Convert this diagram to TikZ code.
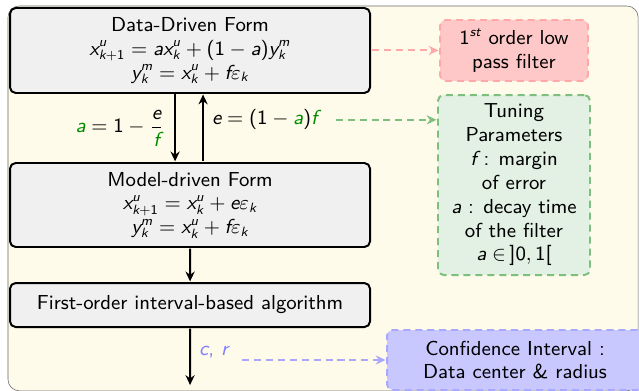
\documentclass[tikz,border=0pt]{standalone}
\usepackage{amsmath, amssymb}
\usetikzlibrary{arrows.meta}

\DeclareSymbolFont{sfletters}{TU}{lmss}{m}{sl}
\SetSymbolFont{operators}{normal}{TU}{lmss}{m}{n}
\newcommand\sfletter[1]{\DeclareMathSymbol{#1}{\mathalpha}{sfletters}{`#1}}
\sfletter{a}\sfletter{c}\sfletter{e}\sfletter{f}\sfletter{k}\sfletter{m}
\sfletter{r}\sfletter{s}\sfletter{t}\sfletter{u}\sfletter{x}\sfletter{y}

\definecolor{bgyellow}{RGB}{255,251,234}
\definecolor{boxgray}{RGB}{240,240,240}
\definecolor{tgreen}{RGB}{0,140,0}
\definecolor{lpfill}{RGB}{255,200,200}
\definecolor{lpline}{RGB}{255,168,168}
\definecolor{tpfill}{RGB}{227,240,228}
\definecolor{tpline}{RGB}{125,192,125}
\definecolor{cifill}{RGB}{200,200,255}
\definecolor{ciline}{RGB}{168,168,255}
\definecolor{cblue}{RGB}{128,128,255}

\tikzset{
  formbox/.style={draw=black, line width=1.4pt, fill=boxgray, rounded corners=4pt, minimum width=5.625cm, align=center},
  notebox/.style={line width=1.4pt, dash pattern=on 5pt off 3.5pt, rounded corners=4pt, align=center},
  flow/.style={line width=1.4pt, -{Stealth[length=7pt, width=6.5pt]}},
  hint/.style={line width=1.4pt, dash pattern=on 5pt off 3.5pt, -{Stealth[length=7pt, width=6.5pt]}},
}

\begin{document}
\begin{tikzpicture}[scale=1.6, every node/.style={transform shape, font=\fontsize{9}{10.6}\selectfont\sffamily}]
  \useasboundingbox (0,0) rectangle (9.984,6.094);
  \filldraw[fill=bgyellow, draw=black!60, rounded corners=8pt] (0.125,-0.012) rectangle (9.97,6.0);

  \node[formbox, minimum height=1.328cm] (ddf) at (2.969,5.305)
    {Data-Driven Form\\ $x^u_{k+1} = a x^u_k + (1-a) y^m_k$\\ $y^m_k = x^u_k + f \varepsilon_k$};
  \node[formbox, minimum height=1.3125cm] (mdf) at (2.969,2.891)
    {Model-driven Form\\ $x^u_{k+1} = x^u_k + e \varepsilon_k$\\ $y^m_k = x^u_k + f \varepsilon_k$};
  \node[formbox, minimum height=0.6875cm] (fia) at (2.969,1.328) {First-order interval-based algorithm};
  \coordinate (outEnd) at (2.969,0.078);

  \node[notebox, draw=lpline, fill=lpfill, minimum width=2.3125cm, minimum height=0.953cm] (lpf) at (8.031,5.305)
    {$1^{st}$ order low\\ pass filter};
  \node[notebox, draw=tpline, fill=tpfill, minimum width=2.375cm, minimum height=2.8125cm] (tpar) at (8.031,3.203)
    {Tuning\\ Parameters\\ $f$ : margin\\ of error\\ $a$ : decay time\\ of the filter\\ $a \in \,]0,1[$};
  \node[notebox, draw=ciline, fill=cifill, minimum width=4cm, minimum height=0.9375cm] (cint) at (8.047,0.469)
    {Confidence Interval :\\ Data center \& radius};

  \draw[flow] ([xshift=-0.234cm]ddf.south) -- ([xshift=-0.234cm]mdf.north)
    node[midway, left, xshift=-1pt] (aLbl) {${\color{tgreen}a} = 1 - \dfrac{e}{\color{tgreen}f}$};
  \draw[flow] ([xshift=0.203cm]mdf.north) -- ([xshift=0.203cm]ddf.south)
    node[midway, right, yshift=0.125cm] (eLbl) {$e = (1 - {\color{tgreen}a}){\color{tgreen}f}$};
  \draw[flow] (mdf) -- (fia);
  \draw[flow] (fia) -- (outEnd) node[pos=0.42, right, text=cblue] (crLbl) {$c$, $r$};

  \draw[hint, draw=lpline] (ddf.east) -- (lpf.west);
  \draw[hint, draw=tpline] ([xshift=4pt]eLbl.east) -- (eLbl.east -| tpar.west);
  \draw[hint, draw=ciline] ([xshift=2pt]crLbl.east |- cint.west) -- (cint.west);
\end{tikzpicture}
\end{document}
